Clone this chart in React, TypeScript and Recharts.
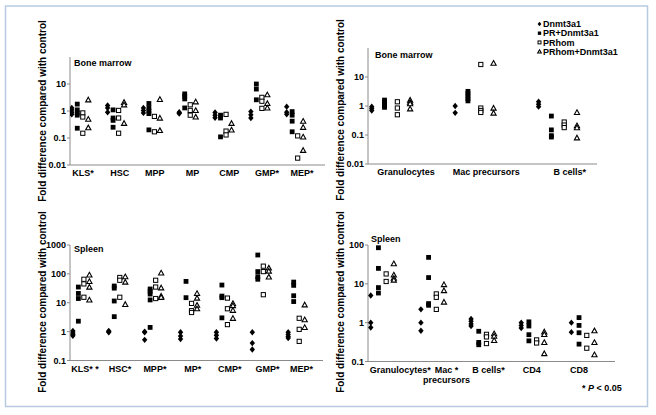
import React from 'react';
import { ScatterChart, Scatter, XAxis, YAxis } from 'recharts';

// ---------- data ----------
const seriesNames = ['Dnmt3a1', 'PR+Dnmt3a1', 'PRhom', 'PRhom+Dnmt3a1'];

// Bone marrow – progenitors
const bmProgCategories = ['KLS*', 'HSC', 'MPP', 'MP', 'CMP', 'GMP*', 'MEP*'];
const bmProgDnmt3a1 = [[1.3, 1.1, 0.9, 0.75], [1.6, 1.3, 0.9], [1.3, 1.05, 0.85], [0.9, 0.85, 0.8], [0.88, 0.7, 0.56], [0.95, 0.72, 0.55], [1.45, 0.9, 0.75]];
const bmProgPRDnmt3a1 = [[1.8, 1.1, 0.85, 0.7, 0.23], [1.1, 0.55, 0.45, 0.25], [1.9, 1.3, 1.0, 0.8, 0.2], [4.3, 3.5, 2.8, 1.3], [0.7, 0.55, 0.11], [10, 6.5, 2.6], [0.95, 0.7, 0.42, 0.17]];
const bmProgPRhom = [[0.85, 0.6, 0.15], [1.05, 0.55, 0.15], [0.63, 0.17], [1.7, 1.05, 0.7], [0.75, 0.18, 0.13], [3.2, 2.3, 1.25], [0.12, 0.018]];
const bmProgPRhomDnmt3a1 = [[2.6, 0.5, 0.24], [2.1, 1.7, 0.35], [2.7, 0.55, 0.19], [2.2, 1.05, 0.6], [0.35, 0.2], [4.0, 1.9, 1.3], [0.42, 0.25, 0.11, 0.035]];

// Bone marrow – mature
const bmMatCategories = ['Granulocytes', 'Mac precursors', 'B cells*'];
const bmMatDnmt3a1 = [[0.95, 0.82, 0.7], [1.0, 0.58], [1.4, 1.15, 0.95]];
const bmMatPRDnmt3a1 = [[1.6, 1.35, 1.15, 1.0, 0.9], [3.2, 2.7, 2.2, 1.8, 1.5], [0.45, 0.15, 0.095, 0.085]];
const bmMatPRhom = [[1.4, 0.85, 0.5], [27, 0.85, 0.7, 0.6], [0.28, 0.22, 0.18]];
const bmMatPRhomDnmt3a1 = [[1.6, 1.35, 1.2, 0.8], [30, 0.85, 0.57], [0.6, 0.21, 0.18, 0.08]];

// Spleen – progenitors
const spProgCategories = ['KLS* *', 'HSC*', 'MPP*', 'MP*', 'CMP*', 'GMP*', 'MEP*'];
const spProgDnmt3a1 = [[1.05, 0.9, 0.8, 0.72], [1.05, 1.0, 0.95], [1.0, 0.95, 0.52], [0.95, 0.7, 0.55], [0.95, 0.75, 0.58], [0.95, 0.4, 0.24], [0.95, 0.8, 0.68, 0.6]];
const spProgPRDnmt3a1 = [[35, 21, 14, 2.3], [38, 32, 11.5, 3.3], [30, 25, 20, 12.5, 1.4], [55, 15], [41, 17, 15, 3], [450, 120, 80, 65], [52, 40, 17.5, 11]];
const spProgPRhom = [[65, 45, 15.5], [75, 60, 15.5], [60, 35, 14], [9.5, 5.3, 4.6], [14.5, 6.2, 1.75], [185, 120, 19], [2.9, 1.2, 0.46]];
const spProgPRhomDnmt3a1 = [[92, 55, 35, 12.5], [80, 52, 8.8], [108, 33, 17, 15.5], [21, 14.5, 8.2, 6.2], [9.5, 8, 5.5, 2.9], [160, 125, 78], [8.5, 2.6, 1.4]];

// Spleen – mature
const spMatCategories = ['Granulocytes*', 'Mac *\nprecursors', 'B cells*', 'CD4', 'CD8'];
const spMatDnmt3a1 = [[5, 1.0, 0.75], [2.2, 1.0, 0.62], [1.25, 1.08, 0.93, 0.82], [1.0, 0.85, 0.73], [1.0, 0.57]];
const spMatPRDnmt3a1 = [[85, 25, 8, 5.8], [48, 14.5, 3.1, 2.8], [0.6, 0.31, 0.27], [1.05, 0.82, 0.49, 0.34], [1.35, 0.85, 0.55, 0.28]];
const spMatPRhom = [[18, 11.5], [5.5, 4.5, 2.2], [0.5, 0.43, 0.29], [0.36, 0.3], [0.47, 0.22]];
const spMatPRhomDnmt3a1 = [[33, 17, 14, 12.5], [9.6, 6.7, 3.4], [0.52, 0.45, 0.35], [0.58, 0.5, 0.31, 0.16], [0.62, 0.31, 0.15]];

const bmTicks = [0.01, 0.1, 1, 10];
const spProgTicks = [0.1, 1, 10, 100, 1000];
const spMatTicks = [0.1, 1, 10, 100];

// ---------- styling ----------
const FONT = '"Liberation Sans", Arial, Helvetica, sans-serif';
const AXIS = '#8a8a8a';
const OFFSETS = [-0.23, -0.077, 0.077, 0.23];
const KINDS = ['diamond', 'square', 'openSquare', 'openTriangle'];

function Marker({ kind, cx, cy, s = 1 }: { kind: string; cx: number; cy: number; s?: number }) {
  if (kind === 'diamond') {
    const w = 2.7 * s, h = 3.2 * s;
    return <path d={`M${cx},${cy - h}L${cx + w},${cy}L${cx},${cy + h}L${cx - w},${cy}Z`} fill="#000" />;
  }
  if (kind === 'square') {
    const a = 2.4 * s;
    return <rect x={cx - a} y={cy - a} width={2 * a} height={2 * a} fill="#000" />;
  }
  if (kind === 'openSquare') {
    const a = 2.1 * s;
    return <rect x={cx - a} y={cy - a} width={2 * a} height={2 * a} fill="#fff" stroke="#000" strokeWidth={1} />;
  }
  const w = 2.6 * s, h = 2.6 * s;
  return (
    <path d={`M${cx},${cy - h}L${cx + w},${cy + h * 0.8}L${cx - w},${cy + h * 0.8}Z`} fill="#fff" stroke="#000" strokeWidth={1.1} strokeLinejoin="miter" />
  );
}

const makeShape = (kind: string) => (props: any) => <Marker kind={kind} cx={props.cx} cy={props.cy} />;

function toPoints(values: number[][], offset: number) {
  const pts: { x: number; y: number }[] = [];
  values.forEach((vals, i) => vals.forEach((v) => pts.push({ x: i + offset, y: v })));
  return pts;
}

type PanelProps = {
  plot: { x0: number; x1: number; y0: number; y1: number };
  xDomain: [number, number];
  yDomain: [number, number];
  yTicks: number[];
  categories: string[];
  series: number[][][];
  labelShift: number[];
};

function Panel({ plot, xDomain, yDomain, yTicks, categories, series, labelShift }: PanelProps) {
  const ML = 40, MT = 10, MR = 10, XH = 35;
  const width = plot.x1 - plot.x0 + ML + MR;
  const height = plot.y1 - plot.y0 + MT + XH;
  const renderTick = (props: any) => {
    const { x, y, payload } = props;
    const i = Math.round(payload.value);
    const lines = String(categories[i] ?? '').split('\n');
    const tx = x + (labelShift[i] ?? 0);
    return (
      <text x={tx} y={y} textAnchor="middle" fontSize={9} fontWeight={700} fontFamily={FONT} fill="#000">
        {lines.map((l, j) => (
          <tspan key={j} x={tx} dy={j === 0 ? '0.71em' : '1.15em'}>{l}</tspan>
        ))}
      </text>
    );
  };
  return (
    <div style={{ position: 'absolute', left: plot.x0 - ML, top: plot.y0 - MT }}>
      <ScatterChart width={width} height={height} margin={{ top: MT, right: MR, bottom: 0, left: 0 }}>
        <XAxis
          type="number"
          dataKey="x"
          domain={xDomain}
          ticks={categories.map((_, i) => i)}
          interval={0}
          allowDataOverflow
          axisLine={{ stroke: AXIS }}
          tickLine={false}
          tickSize={4}
          tickMargin={1}
          height={XH}
          tick={renderTick}
        />
        <YAxis
          type="number"
          dataKey="y"
          scale="log"
          domain={yDomain}
          ticks={yTicks}
          interval={0}
          allowDataOverflow
          width={ML}
          axisLine={{ stroke: AXIS }}
          tickLine={{ stroke: AXIS }}
          tickSize={3}
          tickMargin={1}
          tick={{ fill: '#000', fontSize: 9, fontWeight: 700, fontFamily: FONT }}
          tickFormatter={(v: number) => String(v)}
        />
        {series.map((vals, k) => (
          <Scatter
            key={k}
            name={seriesNames[k]}
            data={toPoints(vals, OFFSETS[k])}
            shape={makeShape(KINDS[k])}
            isAnimationActive={false}
          />
        ))}
      </ScatterChart>
    </div>
  );
}

const Y_TITLE = 'Fold difference compared with control';

export default function App() {
  return (
    <div style={{ position: 'absolute', left: 0, top: 0, width: 656, height: 415, background: '#fff' }}>
      <svg width={656} height={415} style={{ position: 'absolute', left: 0, top: 0 }} fontFamily={FONT}>
        <rect x={5.5} y={6} width={642} height={400.5} fill="none" stroke="#b7cae2" strokeWidth={1.5} />
        {[
          [45.5, 111],
          [343.5, 110],
          [45.5, 302],
          [343.5, 302],
        ].map(([x, y], i) => (
          <text key={i} x={x} y={y} transform={`rotate(-90 ${x} ${y})`} textAnchor="middle" fontSize={10} fontWeight={700} fill="#000">
            {Y_TITLE}
          </text>
        ))}
        <text x={74} y={65.5} fontSize={9} fontWeight={700} fill="#000">Bone marrow</text>
        <text x={375} y={57.5} fontSize={9} fontWeight={700} fill="#000">Bone marrow</text>
        <text x={74} y={251.5} fontSize={9} fontWeight={700} fill="#000">Spleen</text>
        <text x={371} y={241.5} fontSize={9} fontWeight={700} fill="#000">Spleen</text>
        {seriesNames.map((n, i) => {
          const cy = 24 + i * 9.2;
          return (
            <g key={n}>
              <Marker kind={KINDS[i]} cx={539.5} cy={cy} s={0.7} />
              <text x={543} y={cy + 3.2} fontSize={9} fontWeight={700} fill="#000">{n}</text>
            </g>
          );
        })}
        <text x={582} y={391} fontSize={9} fontWeight={700} fill="#000">
          {'* '}
          <tspan fontStyle="italic">P</tspan>
          {' < 0.05'}
        </text>
      </svg>
      <Panel
        plot={{ x0: 70, x1: 325, y0: 56.5, y1: 164.5 }}
        xDomain={[-0.28, 6.84]}
        yDomain={[0.01, 100]}
        yTicks={bmTicks}
        categories={bmProgCategories}
        series={[bmProgDnmt3a1, bmProgPRDnmt3a1, bmProgPRhom, bmProgPRhomDnmt3a1]}
        labelShift={[3, 4, 3, 5, 6, 8, 7]}
      />
      <Panel
        plot={{ x0: 368, x1: 597, y0: 48.3, y1: 164.3 }}
        xDomain={[-0.275, 2.47]}
        yDomain={[0.01, 100]}
        yTicks={bmTicks}
        categories={bmMatCategories}
        series={[bmMatDnmt3a1, bmMatPRDnmt3a1, bmMatPRhom, bmMatPRhomDnmt3a1]}
        labelShift={[15, 12, 12]}
      />
      <Panel
        plot={{ x0: 70, x1: 323, y0: 244.5, y1: 360 }}
        xDomain={[-0.31, 6.74]}
        yDomain={[0.1, 1000]}
        yTicks={spProgTicks}
        categories={spProgCategories}
        series={[spProgDnmt3a1, spProgPRDnmt3a1, spProgPRhom, spProgPRhomDnmt3a1]}
        labelShift={[4, 3, 2, 4, 5, 7, 5]}
      />
      <Panel
        plot={{ x0: 368, x1: 615, y0: 244.5, y1: 361 }}
        xDomain={[-0.285, 4.64]}
        yDomain={[0.1, 100]}
        yTicks={spMatTicks}
        categories={spMatCategories}
        series={[spMatDnmt3a1, spMatPRDnmt3a1, spMatPRhom, spMatPRhomDnmt3a1]}
        labelShift={[18, 14, 6, -1, -4]}
      />
    </div>
  );
}
